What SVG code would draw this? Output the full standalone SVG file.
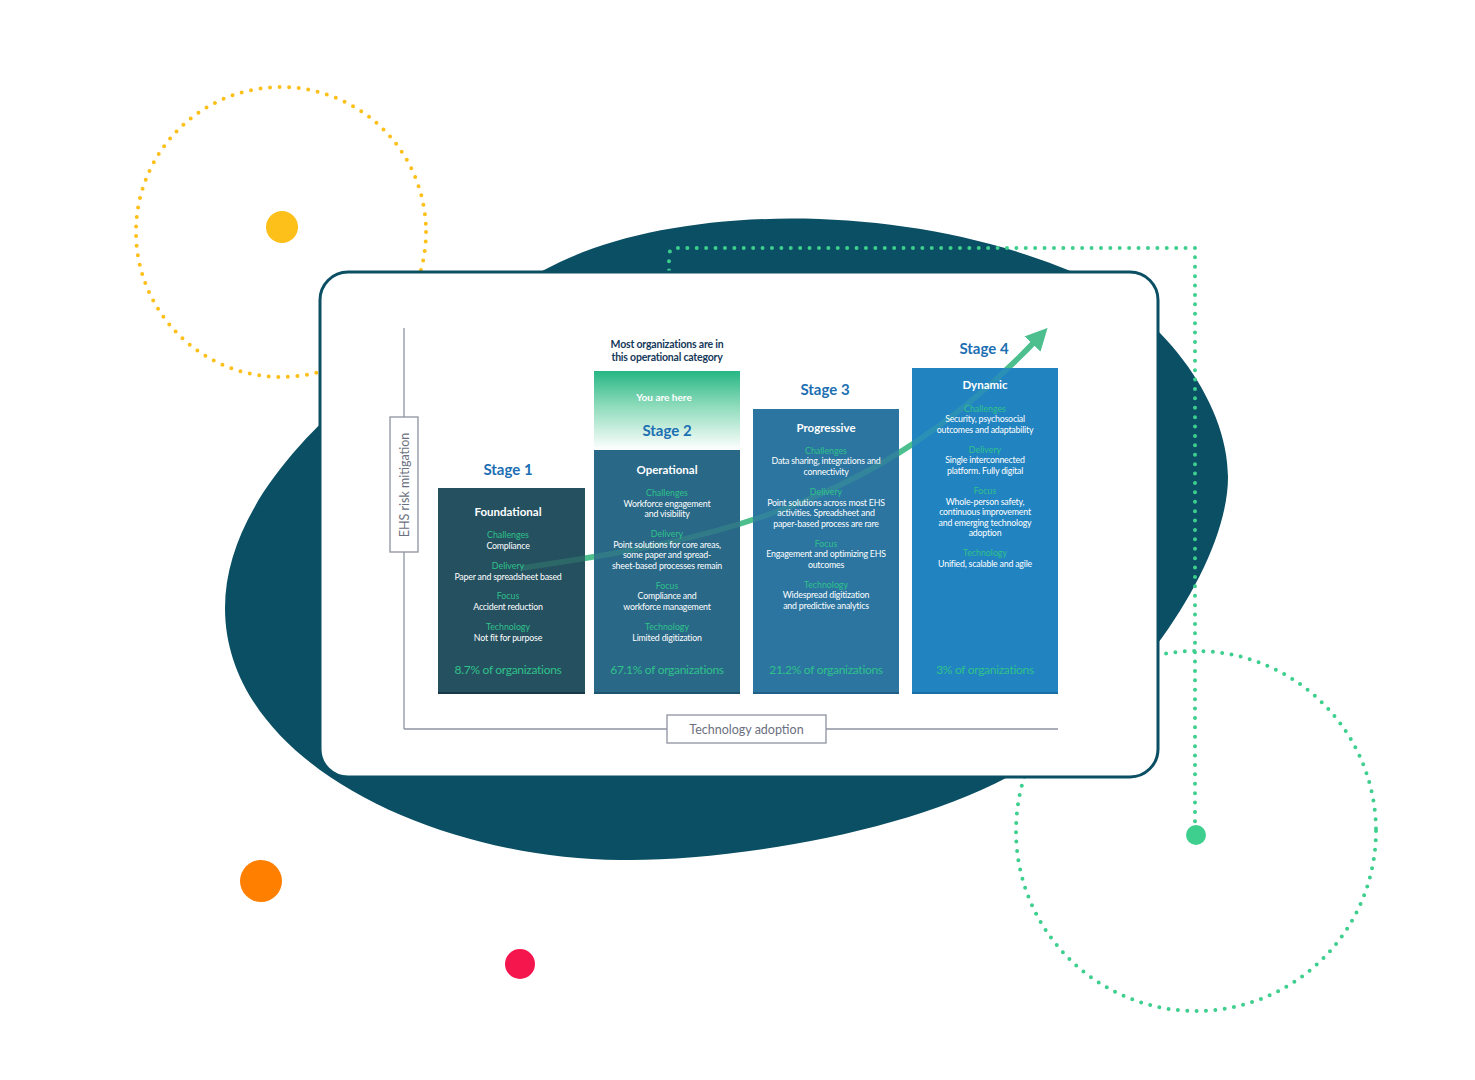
<svg xmlns="http://www.w3.org/2000/svg" xmlns:xlink="http://www.w3.org/1999/xlink" width="1475" height="1080" viewBox="0 0 1475 1080">
<defs>
<linearGradient id="hdr" x1="0" y1="0" x2="0" y2="1">
<stop offset="0" stop-color="#27b684"/>
<stop offset="0.45" stop-color="#8fdcbc"/>
<stop offset="1" stop-color="#ffffff"/>
</linearGradient>
<marker id="ah" viewBox="0 0 10 10" refX="5" refY="5" markerWidth="4" markerHeight="4" orient="auto" markerUnits="strokeWidth">
<path d="M0,0 L10,5 L0,10 Z" fill="#4dbf8e"/>
</marker>
<style>
text{font-family:Lato,"Open Sans","Liberation Sans",sans-serif;text-anchor:middle;dominant-baseline:central}
.lab{fill:#2fc28a;font-size:8.8px}
.txt{fill:#ffffff;font-size:8.8px;letter-spacing:-0.2px}
.pct{fill:#2fc28a;font-size:12px;letter-spacing:-0.3px}
.st{fill:#1c6fb2;font-size:15px;font-weight:bold}
.nm{fill:#ffffff;font-size:11.5px;font-weight:bold}
.dotY{fill:none;stroke:#fdbf1a;stroke-width:4;stroke-linecap:round;stroke-dasharray:0 9.6}
.dotG{fill:none;stroke:#3ecf8e;stroke-width:4;stroke-linecap:round;stroke-dasharray:0 9.4}
.axis{stroke:#8e93a0;stroke-width:1.3;fill:none}
.box{fill:#ffffff;stroke:#8e93a0;stroke-width:1.3}
.axlab{fill:#6b7080;font-size:12.5px}
</style>
</defs>
<rect width="1475" height="1080" fill="#ffffff"/>
<g id="decor-back">
<circle class="dotY" cx="281" cy="232" r="145"/>
<circle class="dotG" cx="1196" cy="831" r="180"/>
<path d="M225 608 C225 470 400 340 560 262 C680 205 900 200 1073 272 C1160 310 1228 400 1228 477 C1228 570 1120 720 1008 777 C900 835 720 862 620 860 C430 858 225 760 225 608 Z" fill="#0a4f63"/>
<path class="dotG" d="M669 280 L669 256 Q669 248 677 248 L1195 248 L1195 826"/>
</g>
<g id="card">
<rect x="320" y="272" width="838" height="505" rx="28" fill="#ffffff" stroke="#0a4f63" stroke-width="3"/>
</g>
<g id="axes">
<line class="axis" x1="404" y1="328" x2="404" y2="729"/>
<line class="axis" x1="404" y1="729" x2="1058" y2="729"/>
<g id="y-axis-label">
<rect class="box" x="390" y="417" width="28" height="135"/>
<text class="axlab" x="404" y="485" transform="rotate(-90 404 485)">EHS risk mitigation</text>
</g>
<g id="x-axis-label">
<rect class="box" x="667" y="715" width="159" height="28"/>
<text class="axlab" x="746.5" y="729.5">Technology adoption</text>
</g>
</g>
<g id="connectors">
<path id="trend" d="M522 568 C700 542, 875 512, 1040 336" fill="none" stroke="#4dbf8e" stroke-width="5.5" marker-end="url(#ah)"/>
</g>
<g id="stage1">
<text class="st" x="508" y="469">Stage 1</text>
<rect x="438" y="488" width="147" height="206" fill="#25505f"/>
<rect x="438" y="692" width="147" height="2" fill="#183a48"/>
</g>
<g id="stage2">
<text x="667" y="344" fill="#15395a" font-size="10.5" font-weight="bold" letter-spacing="-0.2">Most organizations are in</text>
<text x="667" y="357" fill="#15395a" font-size="10.5" font-weight="bold" letter-spacing="-0.2">this operational category</text>
<rect x="594" y="371" width="146" height="79" fill="url(#hdr)"/>
<text x="664" y="397" fill="#ffffff" font-size="10" font-weight="bold">You are here</text>
<text class="st" x="667" y="430">Stage 2</text>
<rect x="594" y="450" width="146" height="244" fill="#296887"/>
<rect x="594" y="692" width="146" height="2" fill="#1d5470"/>
</g>
<g id="stage3">
<text class="st" x="825" y="389">Stage 3</text>
<rect x="753" y="409" width="146" height="285" fill="#2b75a0"/>
<rect x="753" y="692" width="146" height="2" fill="#1f5f88"/>
</g>
<g id="stage4">
<text class="st" x="984" y="348">Stage 4</text>
<rect x="912" y="368" width="146" height="326" fill="#2283c1"/>
<rect x="912" y="692" width="146" height="2" fill="#1a6ea6"/>
</g>
<use xlink:href="#trend" href="#trend" opacity="0.22"/>
<g id="stage1-text">
<text class="nm" x="508" y="511">Foundational</text>
<text class="lab" x="508" y="534">Challenges</text>
<text class="txt" x="508" y="545">Compliance</text>
<text class="lab" x="508" y="565">Delivery</text>
<text class="txt" x="508" y="576">Paper and spreadsheet based</text>
<text class="lab" x="508" y="595">Focus</text>
<text class="txt" x="508" y="606">Accident reduction</text>
<text class="lab" x="508" y="626">Technology</text>
<text class="txt" x="508" y="637">Not fit for purpose</text>
<text class="pct" x="508" y="669">8.7% of organizations</text>
</g>
<g id="stage2-text">
<text class="nm" x="667" y="469">Operational</text>
<text class="lab" x="667" y="492">Challenges</text>
<text class="txt" x="667" y="503">Workforce engagement</text>
<text class="txt" x="667" y="513">and visibility</text>
<text class="lab" x="667" y="533">Delivery</text>
<text class="txt" x="667" y="544">Point solutions for core areas,</text>
<text class="txt" x="667" y="554">some paper and  spread-</text>
<text class="txt" x="667" y="565">sheet-based processes remain</text>
<text class="lab" x="667" y="585">Focus</text>
<text class="txt" x="667" y="595">Compliance and</text>
<text class="txt" x="667" y="606">workforce management</text>
<text class="lab" x="667" y="626">Technology</text>
<text class="txt" x="667" y="637">Limited digitization</text>
<text class="pct" x="667" y="669">67.1% of organizations</text>
</g>
<g id="stage3-text">
<text class="nm" x="826" y="427">Progressive</text>
<text class="lab" x="826" y="450">Challenges</text>
<text class="txt" x="826" y="460">Data sharing, integrations and</text>
<text class="txt" x="826" y="471">connectivity</text>
<text class="lab" x="826" y="491">Delivery</text>
<text class="txt" x="826" y="502">Point solutions across most EHS</text>
<text class="txt" x="826" y="512">activities. Spreadsheet and</text>
<text class="txt" x="826" y="523">paper-based process are rare</text>
<text class="lab" x="826" y="543">Focus</text>
<text class="txt" x="826" y="553">Engagement and optimizing EHS</text>
<text class="txt" x="826" y="564">outcomes</text>
<text class="lab" x="826" y="584">Technology</text>
<text class="txt" x="826" y="594">Widespread digitization</text>
<text class="txt" x="826" y="605">and predictive analytics</text>
<text class="pct" x="826" y="669">21.2% of organizations</text>
</g>
<g id="stage4-text">
<text class="nm" x="985" y="384">Dynamic</text>
<text class="lab" x="985" y="408">Challenges</text>
<text class="txt" x="985" y="418">Security, psychosocial</text>
<text class="txt" x="985" y="429">outcomes and adaptability</text>
<text class="lab" x="985" y="449">Delivery</text>
<text class="txt" x="985" y="459">Single interconnected</text>
<text class="txt" x="985" y="470">platform. Fully digital</text>
<text class="lab" x="985" y="490">Focus</text>
<text class="txt" x="985" y="501">Whole-person safety,</text>
<text class="txt" x="985" y="511">continuous improvement</text>
<text class="txt" x="985" y="522">and emerging technology</text>
<text class="txt" x="985" y="532">adoption</text>
<text class="lab" x="985" y="552">Technology</text>
<text class="txt" x="985" y="563">Unified, scalable and agile</text>
<text class="pct" x="985" y="669">3% of organizations</text>
</g>
<g id="decor-front">
<circle cx="282" cy="227" r="16" fill="#fdbf1a"/>
<circle cx="1196" cy="835" r="10" fill="#3ecf8e"/>
<circle cx="261" cy="881" r="21" fill="#ff7f00"/>
<circle cx="520" cy="964" r="15" fill="#f5164d"/>
</g>
</svg>
